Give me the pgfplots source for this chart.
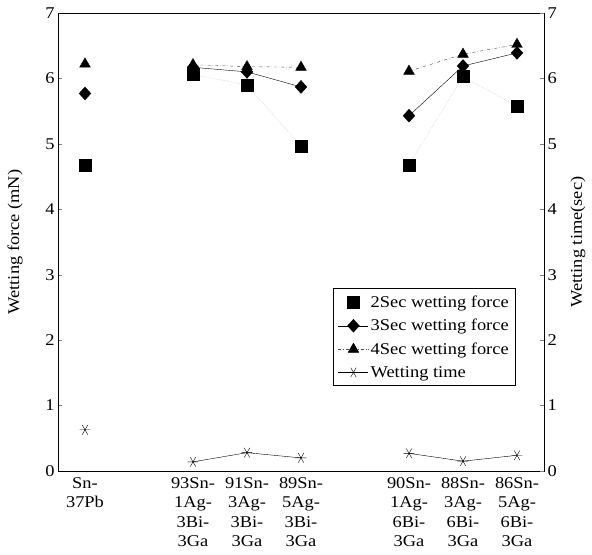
\documentclass[border=0pt]{standalone}
\usepackage{fontspec}
\setmainfont{Liberation Serif}[FakeStretch=1.12]
\usepackage{pgfplots}
\pgfplotsset{compat=1.18}
\pgfplotsset{markonlylegend/.style={legend image code/.code={\draw[##1, only marks] plot coordinates {(15bp,0bp)};}}}
\newcommand{\ff}{\fontsize{16.5}{19.5}\selectfont}
\begin{document}
\begin{tikzpicture}
\begin{axis}[
  name=ax,
  scale only axis, width=486bp, height=458bp,
  xmin=-0.5, xmax=8.5, ymin=0, ymax=7,
  xtick={0,2,3,4,6,7,8},
  xticklabels={{Sn-\\37Pb},{93Sn-\\1Ag-\\3Bi-\\3Ga},{91Sn-\\3Ag-\\3Bi-\\3Ga},{89Sn-\\5Ag-\\3Bi-\\3Ga},{90Sn-\\1Ag-\\6Bi-\\3Ga},{88Sn-\\3Ag-\\6Bi-\\3Ga},{86Sn-\\5Ag-\\6Bi-\\3Ga}},
  xticklabel style={align=center, font=\ff, anchor=north, yshift=-3pt},
  major x tick style={draw=none},
  extra x ticks={0.5,1.5,2.5,3.5,4.5,5.5,6.5,7.5},
  extra x tick labels={},
  extra x tick style={major tick length=5pt, tick style={draw=black}},
  xtick pos=bottom, ytick pos=left,
  ytick={0,1,...,7},
  tick align=inside,
  yticklabel style={font=\ff},
  /pgf/number format/assume math mode=true,
  ylabel={Wetting force (mN)},
  ylabel style={font=\ff, at={(axis description cs:-0.088,0.5)}, anchor=center},
  unbounded coords=jump,
  legend style={at={(0.566,0.186)}, anchor=south west, font=\ff, draw=black, row sep=6.5pt, inner sep=5pt},
  legend cell align=left,
  legend image code/.code={\draw[mark repeat=2, mark phase=2, #1] plot coordinates {(0bp,0bp) (15bp,0bp) (30bp,0bp)};},
  axis line style={line width=0.8pt},
]
\addplot[color=gray!50, densely dotted, mark=square*, mark size=6pt, mark options={solid, fill=black, draw=black}, markonlylegend]
coordinates {(0,4.68) (1,nan) (2,6.06) (3,5.9) (4,4.96) (5,nan) (6,4.68) (7,6.03) (8,5.57)};
\addlegendentry{2Sec wetting force}
\addplot[color=black, solid, thin, mark=diamond*, mark size=6.5pt, mark options={fill=black, xscale=1.2}]
coordinates {(0,5.77) (1,nan) (2,6.17) (3,6.1) (4,5.87) (5,nan) (6,5.43) (7,6.19) (8,6.39)};
\addlegendentry{3Sec wetting force}
\addplot[color=black!70, dash dot, thin, mark=triangle*, mark size=6.2pt, mark options={solid, fill=black, draw=black}]
coordinates {(0,6.22) (1,nan) (2,6.21) (3,6.18) (4,6.17) (5,nan) (6,6.11) (7,6.37) (8,6.52)};
\addlegendentry{4Sec wetting force}
\addplot[color=black, solid, thin, mark=asterisk, mark size=5.5pt, mark options={solid, rotate=90}]
coordinates {(0,0.63) (1,nan) (2,0.14) (3,0.28) (4,0.2) (5,nan) (6,0.27) (7,0.15) (8,0.24)};
\addlegendentry{Wetting time}
\end{axis}
\begin{axis}[
  scale only axis, width=486bp, height=458bp,
  xmin=-0.5, xmax=8.5, ymin=0, ymax=7,
  axis x line=none,
  axis y line*=right,
  ytick={0,1,...,7},
  tick align=inside,
  yticklabel style={font=\ff},
  /pgf/number format/assume math mode=true,
  ylabel={Wetting time(sec)},
  ylabel style={font=\ff, at={(axis description cs:1.07,0.5)}, anchor=center},
  axis line style={line width=0.8pt},
]
\addplot[draw=none] coordinates {(0,0)};
\end{axis}
\pgfresetboundingbox
\path ([shift={(-58bp,-84bp)}]ax.south west) rectangle ([shift={(48bp,13bp)}]ax.north east);
\end{tikzpicture}
\end{document}
